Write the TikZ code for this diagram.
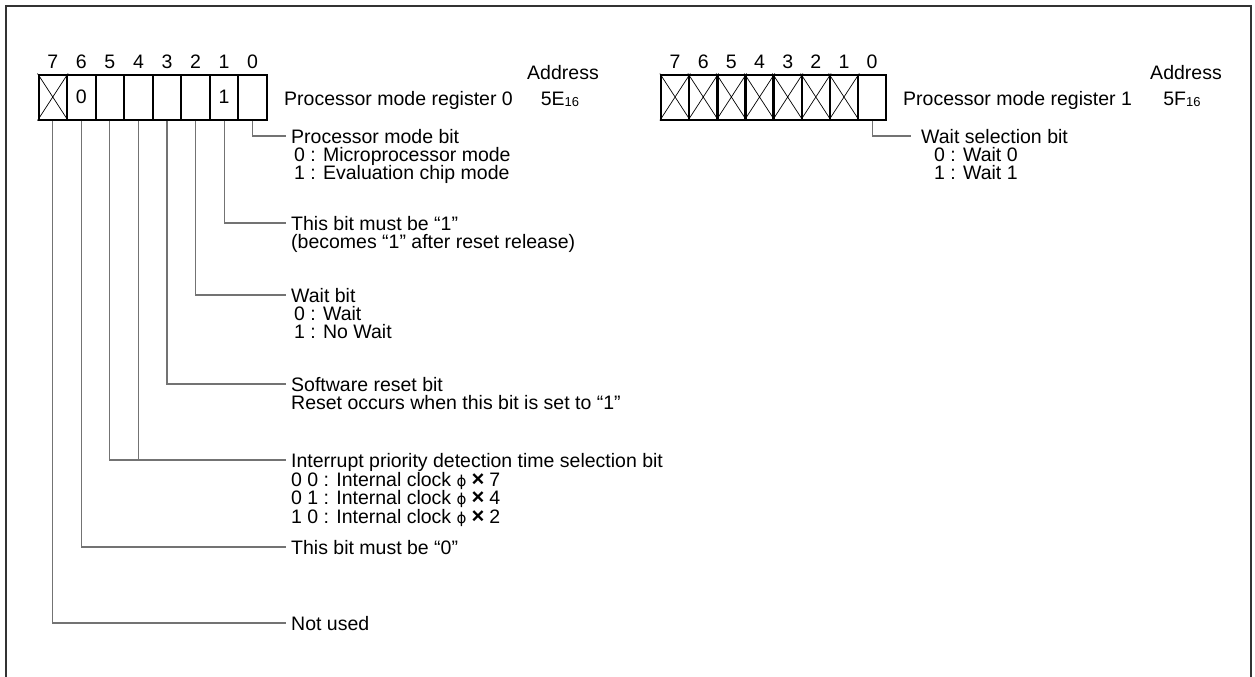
\documentclass[tikz,border=0pt]{standalone}
\usepackage{fontspec}
\setmainfont{Liberation Sans}
\newfontfamily\symfont{DejaVu Sans}
\usetikzlibrary{positioning}

\newcommand\hexsub[1]{\raisebox{-1.5pt}{\fontsize{13}{13}\selectfont #1}}
\newcommand\clk{{\symfont\fontsize{15}{15}\selectfont ϕ}\hspace{5pt}{\bfseries\fontsize{22}{18}\selectfont ×}\hspace{5pt}}

\tikzset{
  bitcell/.style={draw, line width=2pt, minimum width=28.55pt, minimum height=45pt,
    inner sep=0pt, font=\fontsize{19.5}{19.5}\selectfont},
  txt/.style={font=\fontsize{19.5}{18.4}\selectfont, inner sep=0pt},
  head/.style={txt, anchor=west, inner xsep=5pt, text height=14pt, text depth=0pt},
  note/.style={txt, anchor=base west, inner xsep=5pt, align=left},
  leader/.style={black!55, line width=1.1pt},
  cross/.style={line width=0.7pt},
}

\begin{document}
\begin{tikzpicture}[x=1pt, y=-1pt]
\useasboundingbox (0,0) rectangle (1255,677);
% frame, open at the bottom
\draw[line width=2pt, black!80] (6,677) -- (6,6) -- (1251,6) -- (1251,677);

% register 0 (5E)
\foreach \i in {0,...,7}{
  \node[bitcell] (r0b\i) at ({38.5+28.55*(7.5-\i)},97) {};
  \node[txt, above=5pt of r0b\i.north] (r0n\i) {\i};
}
\node at (r0b6) [txt] {0};
\node at (r0b1) [txt] {1};
\draw[cross] (r0b7.north west) -- (r0b7.south east) (r0b7.south west) -- (r0b7.north east);

\node[txt, anchor=base west] (reg0) at (284,105) {Processor mode register 0};
\node[txt, anchor=base] (adr0) at (563,80) {Address};
\node[txt, anchor=base] (val0) at (560,105) {5E\hexsub{16}};

% register 1 (5F)
\foreach \i in {0,...,7}{
  \node[bitcell] (r1b\i) at ({661+28.15*(7.5-\i)},97) {};
  \node[txt, above=5pt of r1b\i.north] (r1n\i) {\i};
}
\foreach \i in {1,...,7}
  \draw[cross] (r1b\i.north west) -- (r1b\i.south east) (r1b\i.south west) -- (r1b\i.north east);

\node[txt, anchor=base west] (reg1) at (903,105) {Processor mode register 1};
\node[txt, anchor=base] (adr1) at (1186,80) {Address};
\node[txt, anchor=base] (val1) at (1182,105) {5F\hexsub{16}};

% bit descriptions (base of a note is its last line)
\node[head] (h0) at (286,136) {Processor mode bit};
\node[note] (d0) at ([yshift=-36.8pt]h0.base west) {\hspace*{3pt}0 : Microprocessor mode\\\hspace*{3pt}1 : Evaluation chip mode};
\node[head] (h1) at (286,223) {This bit must be “1”};
\node[note] (d1) at ([yshift=-18.4pt]h1.base west) {(becomes “1” after reset release)};
\node[head] (h2) at (286,295) {Wait bit};
\node[note] (d2) at ([yshift=-36.8pt]h2.base west) {\hspace*{3pt}0 : Wait\\\hspace*{3pt}1 : No Wait};
\node[head] (h3) at (286,384) {Software reset bit};
\node[note] (d3) at ([yshift=-18.4pt]h3.base west) {Reset occurs when this bit is set to “1”};
\node[head] (h45) at (286,460) {Interrupt priority detection time selection bit};
\node[note] (d45) at ([yshift=-56pt]h45.base west) {0 0 : Internal clock \clk 7\\0 1 : Internal clock \clk 4\\1 0 : Internal clock \clk 2};
\node[head] (h6) at (286,547) {This bit must be “0”};
\node[head] (h7) at (286,623) {Not used};

\node[head, inner xsep=10pt] (w0) at (911,136) {Wait selection bit};
\node[note, inner xsep=10pt] (e0) at ([yshift=-36.8pt]w0.base west) {\hspace*{13pt}0 : Wait 0\\\hspace*{13pt}1 : Wait 1};

% leaders
\draw[leader] (r0b0.south) |- (h0.west);
\draw[leader] (r0b1.south) |- (h1.west);
\draw[leader] (r0b2.south) |- (h2.west);
\draw[leader] (r0b3.south) |- (h3.west);
\draw[leader] (r0b4.south) -- (r0b4.south |- h45.west);
\draw[leader] (r0b5.south) |- (h45.west);
\draw[leader] (r0b6.south) |- (h6.west);
\draw[leader] (r0b7.south) |- (h7.west);
\draw[leader] (r1b0.south) |- (w0.west);
\end{tikzpicture}
\end{document}
